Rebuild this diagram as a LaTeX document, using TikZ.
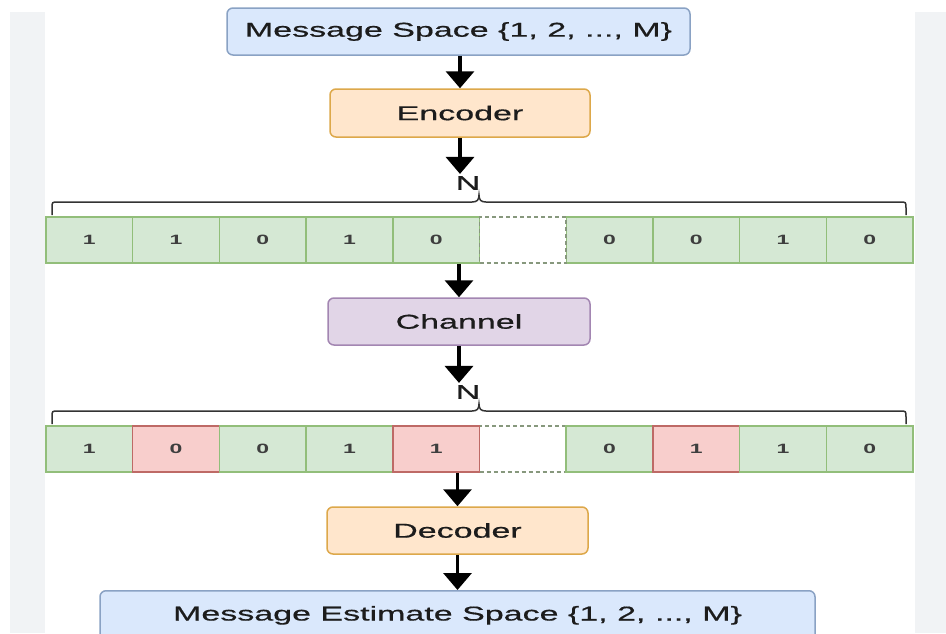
\documentclass[tikz,border=0pt]{standalone}
\usepackage{fontspec}
\newfontfamily\wf[FakeStretch=1.70,FakeBold=0.6]{Liberation Sans}
\newfontfamily\wfb[FakeStretch=1.70]{Liberation Sans Bold}
\usetikzlibrary{arrows.meta}
\definecolor{stripgray}{HTML}{F1F3F5}
\definecolor{blueF}{HTML}{DAE8FC}
\definecolor{blueD}{HTML}{8AA2C4}
\definecolor{orF}{HTML}{FFE6CC}
\definecolor{orD}{HTML}{DDA84A}
\definecolor{puF}{HTML}{E1D5E7}
\definecolor{puD}{HTML}{A386B2}
\definecolor{grF}{HTML}{D5E8D4}
\definecolor{grD}{HTML}{92BE7A}
\definecolor{reF}{HTML}{F8CECC}
\definecolor{reD}{HTML}{BE6A66}
\definecolor{txt}{HTML}{1C1C1C}
\begin{document}
\begin{tikzpicture}[x=1pt,y=-1pt,
  box/.style={rounded corners=6pt, line width=1.5pt, inner sep=0pt, text=txt,
    font=\wf\fontsize{20}{24}\selectfont},
  bluebox/.style={box, fill=blueF, draw=blueD},
  orbox/.style={box, fill=orF, draw=orD},
  pubox/.style={box, fill=puF, draw=puD},
  cell/.style={minimum width=86.7pt, minimum height=46pt, inner sep=0pt, line width=1.5pt,
    text=txt!85, font=\wfb\fontsize{13.5}{15}\selectfont},
  gcell/.style={cell, fill=grF, draw=grD},
  rcell/.style={cell, fill=reF, draw=reD},
  ecell/.style={cell, fill=white, draw=gray!60!grD, dashed, dash pattern=on 4pt off 3pt},
  lab/.style={inner sep=0pt, text=txt, font=\wf\fontsize{20}{24}\selectfont},
  arr/.style={line width=3.5pt, -{Triangle[width=28pt,length=17pt]}},
  brace/.style={line width=1.5pt, draw=black!80}
]
\useasboundingbox (0,0) rectangle (946,633);
\clip (0,0) rectangle (946,633);
\fill[white] (0,0) rectangle (946,633);
\fill[stripgray] (10,12) rectangle (45,633);
\fill[stripgray] (915,12) rectangle (946,633);

% boxes
\node[bluebox, minimum width=463pt, minimum height=47pt] (msg) at (458.5,31.5) {Message Space \{1, 2, ..., M\}};
\node[orbox, minimum width=260pt, minimum height=48pt] (enc) at (460,113) {Encoder};
\node[lab] (n1) at (468,183) {N};

% row 1
\node[gcell] (a1) at (89.35,240) {1};
\node[gcell] (a2) at (176.05,240) {1};
\node[gcell] (a3) at (262.75,240) {0};
\node[gcell] (a4) at (349.45,240) {1};
\node[gcell] (a5) at (436.15,240) {0};
\node[gcell] (a7) at (609.55,240) {0};
\node[gcell] (a8) at (696.25,240) {0};
\node[gcell] (a9) at (782.95,240) {1};
\node[gcell] (a10) at (869.65,240) {0};
\node[ecell] (a6) at (522.85,240) {};

\node[pubox, minimum width=262pt, minimum height=47pt] (chan) at (459,321.5) {Channel};
\node[lab] (n2) at (468,392) {N};

% row 2
\node[ecell] (b6) at (522.85,449) {};
\node[gcell] (b1) at (89.35,449) {1};
\node[rcell] (b2) at (176.05,449) {0};
\node[gcell] (b3) at (262.75,449) {0};
\node[gcell] (b4) at (349.45,449) {1};
\node[rcell] (b5) at (436.15,449) {1};
\node[gcell] (b7) at (609.55,449) {0};
\node[rcell] (b8) at (696.25,449) {1};
\node[gcell] (b9) at (782.95,449) {1};
\node[gcell] (b10) at (869.65,449) {0};

\node[orbox, minimum width=261pt, minimum height=47pt] (dec) at (457.5,530.5) {Decoder};
\node[bluebox, minimum width=715pt, minimum height=52pt, anchor=north] (est) at (457.5,590) {\raisebox{7pt}{Message Estimate Space \{1, 2, ..., M\}}};

% braces
\draw[brace] (52,215) -- (52,208) .. controls (52,202) .. (58,202) -- (472,202)
  .. controls (477,202) and (479,200) .. (479,195)
  .. controls (479,200) and (481,202) .. (486,202) -- (900,202)
  .. controls (906,202) .. (906,208) -- (906,215);
\draw[brace] (52,424) -- (52,417) .. controls (52,411) .. (58,411) -- (472,411)
  .. controls (477,411) and (479,409) .. (479,404)
  .. controls (479,409) and (481,411) .. (486,411) -- (900,411)
  .. controls (906,411) .. (906,417) -- (906,424);

% arrows
\draw[arr] (enc.north |- msg.south) -- (enc.north);
\draw[arr] (enc.south) -- ([yshift=2pt]enc.south |- n1.north);
\draw[arr] (a5.south -| chan.north) -- (chan.north);
\draw[arr] (chan.south) -- ([yshift=2pt]chan.south |- n2.north);
\draw[arr] (b5.south -| dec.north) -- (dec.north);
\draw[arr] (dec.south) -- (dec.south |- est.north);
\end{tikzpicture}
\end{document}
